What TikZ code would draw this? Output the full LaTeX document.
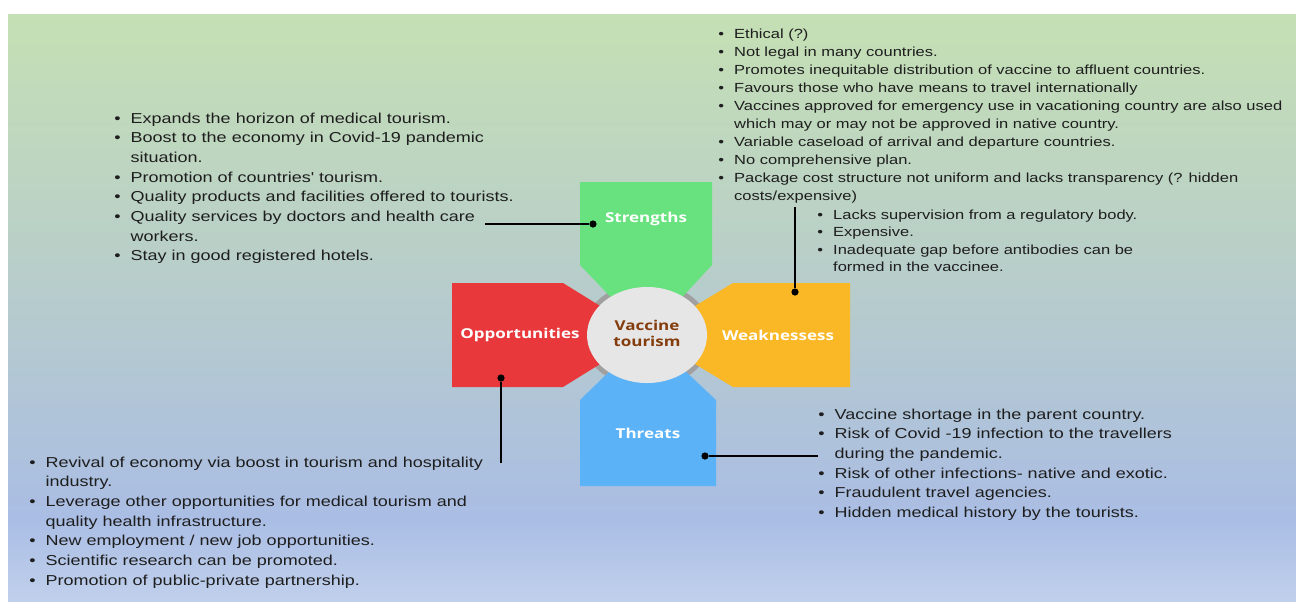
\documentclass[tikz,border=0pt]{standalone}
\usepackage{fontspec}
\setmainfont{Liberation Sans}
\newfontfamily\labelfont{Open Sans}

\definecolor{bgtop}{RGB}{197,224,180}
\definecolor{bgmid}{RGB}{182,203,205}
\definecolor{bgblue}{RGB}{170,189,228}
\definecolor{bgbot}{RGB}{192,208,236}
\definecolor{strgreen}{RGB}{104,226,126}
\definecolor{weakorange}{RGB}{251,184,38}
\definecolor{opred}{RGB}{232,56,60}
\definecolor{thrblue}{RGB}{92,178,246}
\definecolor{hubgray}{RGB}{230,230,230}
\definecolor{ringgray}{RGB}{160,160,160}
\definecolor{hubbrown}{RGB}{132,60,12}
\definecolor{txtgray}{RGB}{30,30,30}

\pgfdeclareverticalshading{panelshade}{100bp}{color(0bp)=(bgbot); color(25bp)=(bgbot);
  color(32bp)=(bgblue); color(50bp)=(bgmid); color(75bp)=(bgtop); color(100bp)=(bgtop)}

\tikzset{
  txt/.style={anchor=base west, inner sep=0pt, text=txtgray,
    font=\fontsize{7.2}{9.85}\selectfont},
  txtsm/.style={txt, font=\fontsize{6.6}{9}\selectfont},
  txtsub/.style={txt, font=\fontsize{6.6}{8.8}\selectfont},
  lbl/.style={inner sep=0pt, text=white, font=\labelfont\bfseries\fontsize{6.8}{8}\selectfont},
  hub/.style={inner sep=0pt, text=hubbrown, font=\labelfont\bfseries\fontsize{6.8}{8}\selectfont},
  dot/.style={circle, fill=black, inner sep=0pt, minimum size=3.6pt},
  link/.style={line width=0.75pt}
}
\newcommand{\wide}[1]{\scalebox{1.25}[1]{#1}}
\newcommand{\blist}[1]{\wide{\begin{tabular}[t]{@{}l@{\hspace{4pt}}l@{}}#1\end{tabular}}}

\begin{document}
\begin{tikzpicture}[x=0.5pt,y=-0.5pt]
  \useasboundingbox (0,0) rectangle (1296,601);
  \shade[shading=panelshade] (8,14) rectangle (1296,601);

  % hub and the four arms
  \fill[ringgray] (647,335) ellipse [x radius=65, y radius=53];
  \fill[strgreen] (580,182) -- (712,182) -- (712,265) -- (647,335) -- (580,265) -- cycle;
  \fill[weakorange] (850,283) -- (850,387) -- (733,387) -- (647,335) -- (733,283) -- cycle;
  \fill[opred] (452,283) -- (563,283) -- (647,335) -- (563,387) -- (452,387) -- cycle;
  \fill[thrblue] (580,486) -- (716,486) -- (716,400) -- (647,335) -- (580,400) -- cycle;
  \fill[hubgray] (647,335) ellipse [x radius=60, y radius=48];

  \node[hub] (vt) at (647,335) {\wide{\begin{tabular}{@{}c@{}}Vaccine\\tourism\end{tabular}}};
  \node[lbl] (str) at (646,219) {\wide{Strengths}};
  \node[lbl] (weak) at (778,335) {\wide{Weaknessess}};
  \node[lbl] (opp) at (520,335) {\wide{Opportunities}};
  \node[lbl] (thr) at (648,433) {\wide{Threats}};

  % connectors
  \node[dot] (sdot) at (593,224) {};
  \coordinate (send) at (485,224);
  \draw[link] (send) -- (sdot);
  \node[dot] (wdot) at (795,292) {};
  \coordinate (wend) at (795,207);
  \draw[link] (wend) -- (wdot);
  \node[dot] (odot) at (501,378) {};
  \coordinate (oend) at (501,463);
  \draw[link] (oend) -- (odot);
  \node[dot] (tdot) at (705,456) {};
  \coordinate (tend) at (818,456);
  \draw[link] (tend) -- (tdot);

  % bullet lists
  \node[txtsm] (weaklist) at (718,38) {\blist{
    \textbullet & Ethical (?)\\
    \textbullet & Not legal in many countries.\\
    \textbullet & Promotes inequitable distribution of vaccine to affluent countries.\\
    \textbullet & Favours those who have means to travel internationally\\
    \textbullet & Vaccines approved for emergency use in vacationing country are also used\\
                & which may or may not be approved in native country.\\
    \textbullet & Variable caseload of arrival and departure countries.\\
    \textbullet & No comprehensive plan.\\
    \textbullet & Package cost structure not uniform and lacks transparency (? hidden\\
                & costs/expensive)}};
  \node[txtsub] (weaksub) at (817,219) {\blist{
    \textbullet & Lacks supervision from a regulatory body.\\
    \textbullet & Expensive.\\
    \textbullet & Inadequate gap before antibodies can be\\
                & formed in the vaccinee.}};
  \node[txt] (strlist) at (114,123) {\blist{
    \textbullet & Expands the horizon of medical tourism.\\
    \textbullet & Boost to the economy in Covid-19 pandemic\\
                & situation.\\
    \textbullet & Promotion of countries\textquotesingle\ tourism.\\
    \textbullet & Quality products and facilities offered to tourists.\\
    \textbullet & Quality services by doctors and health care\\
                & workers.\\
    \textbullet & Stay in good registered hotels.}};
  \node[txt] (opplist) at (29,467) {\blist{
    \textbullet & Revival of economy via boost in tourism and hospitality\\
                & industry.\\
    \textbullet & Leverage other opportunities for medical tourism and\\
                & quality health infrastructure.\\
    \textbullet & New employment / new job opportunities.\\
    \textbullet & Scientific research can be promoted.\\
    \textbullet & Promotion of public-private partnership.}};
  \node[txt] (thrlist) at (818,419) {\blist{
    \textbullet & Vaccine shortage in the parent country.\\
    \textbullet & Risk of Covid -19 infection to the travellers\\
                & during the pandemic.\\
    \textbullet & Risk of other infections- native and exotic.\\
    \textbullet & Fraudulent travel agencies.\\
    \textbullet & Hidden medical history by the tourists.}};
\end{tikzpicture}
\end{document}
